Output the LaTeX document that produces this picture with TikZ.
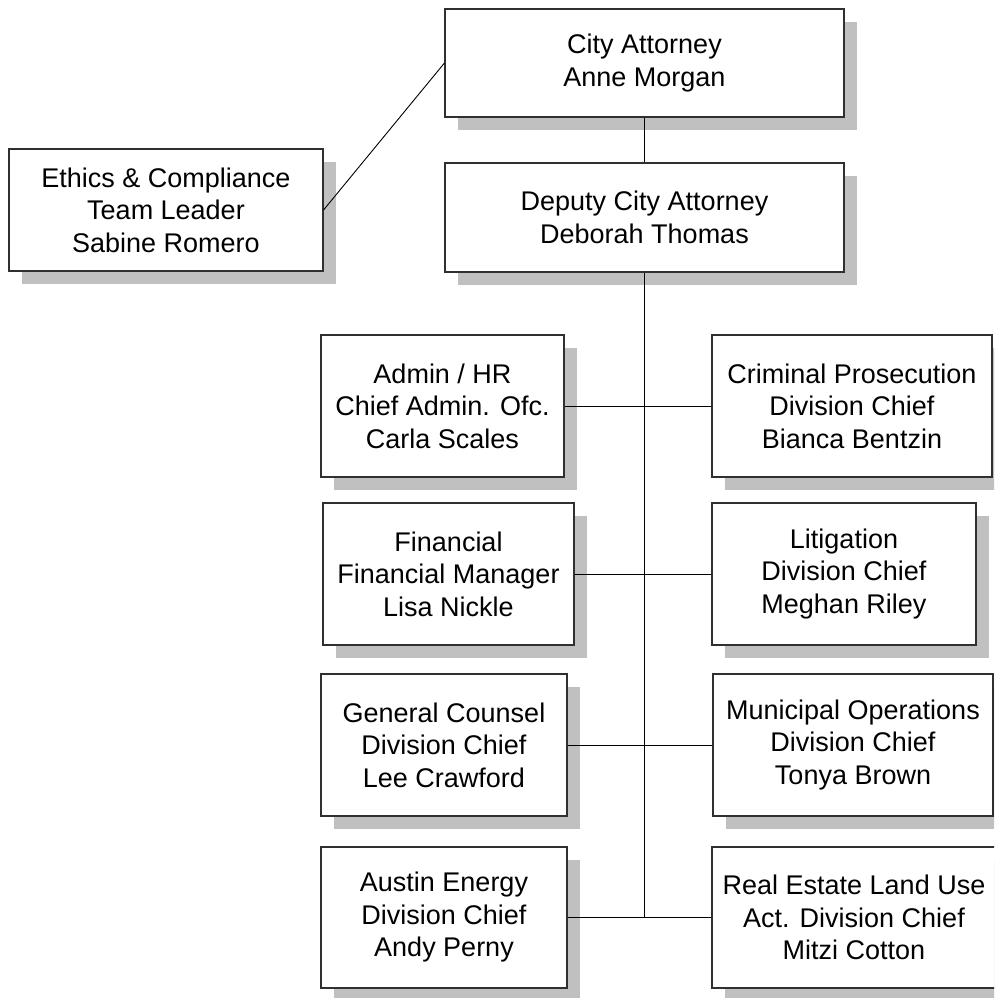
\documentclass[tikz,border=0pt]{standalone}
\usepackage{fontspec}
\setmainfont{Liberation Sans}
\usetikzlibrary{shadows}
\definecolor{shadowgray}{HTML}{C0C0C0}
\definecolor{edgegray}{HTML}{303030}
\begin{document}
\begin{tikzpicture}[x=1pt,y=-1pt,
  orgbox/.style={draw=edgegray, line width=1.1pt, fill=white, align=center,
    inner sep=1pt, font=\fontsize{27}{32.5}\selectfont,
    drop shadow={shadow xshift=13pt, shadow yshift=-13pt, fill=shadowgray, opacity=1}},
  link/.style={draw=black, line width=0.9pt}]
\useasboundingbox (0,0) rectangle (994,998);
\begin{scope}
\clip (0,0) rectangle (994,998);
% top of the office
\node[orgbox, minimum width=399pt, minimum height=108pt] (ca) at (644.5,63) {City Attorney\\Anne Morgan};
\node[orgbox, minimum width=399pt, minimum height=109pt] (dep) at (644.5,217.5) {Deputy City Attorney\\Deborah Thomas};
\node[orgbox, minimum width=314pt, minimum height=122pt] (eth) at (166,210) {Ethics \& Compliance\\Team Leader\\Sabine Romero};
% left column
\node[orgbox, minimum width=243pt, minimum height=142pt] (admin) at (442.5,406) {Admin / HR\\Chief Admin. Ofc.\\Carla Scales};
\node[orgbox, minimum width=251pt, minimum height=142pt] (fin) at (448.5,574) {Financial\\Financial Manager\\Lisa Nickle};
\node[orgbox, minimum width=246pt, minimum height=142pt] (gc) at (444,745) {General Counsel\\Division Chief\\Lee Crawford};
\node[orgbox, minimum width=246pt, minimum height=141pt] (ae) at (444,917.5) {Austin Energy\\Division Chief\\Andy Perny};
% right column
\node[orgbox, minimum width=280pt, minimum height=142pt] (crim) at (852,406) {Criminal Prosecution\\Division Chief\\Bianca Bentzin};
\node[orgbox, minimum width=264pt, minimum height=142pt] (lit) at (844,574) {Litigation\\Division Chief\\Meghan Riley};
\node[orgbox, minimum width=280pt, minimum height=142pt] (mun) at (853,745) {Municipal Operations\\Division Chief\\Tonya Brown};
\node[orgbox, minimum width=284pt, minimum height=141pt] (re) at (854,917.5) {Real Estate Land Use\\Act. Division Chief\\Mitzi Cotton};
% connectors
\coordinate (trunkend) at (dep.south |- ae.east);
\draw[link] (ca.south) -- (dep.north);
\draw[link] (eth.east) -- (ca.west);
\draw[link] (dep.south) -- (trunkend);
\draw[link] (admin.east) -- (crim.west);
\draw[link] (fin.east) -- (lit.west);
\draw[link] (gc.east) -- (mun.west);
\draw[link] (ae.east) -- (re.west);
\end{scope}
\end{tikzpicture}
\end{document}
